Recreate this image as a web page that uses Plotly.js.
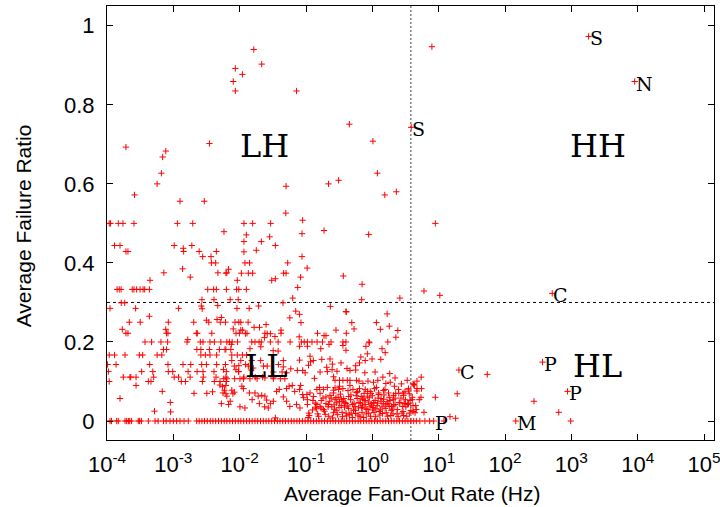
<!DOCTYPE html>
<html>
<head>
<meta charset="utf-8">
<script src="https://cdn.plot.ly/plotly-3.0.1.min.js"></script>
<style>html,body{margin:0;padding:0;background:#fff;}#chart{width:720px;height:507px;}</style>
</head>
<body>
<div id="chart"></div>
<script>
// ---- data: [fan-out rate (Hz), failure ratio] ----
const upperPts = [[1.93e-4,0.693],[2.6e-4,0.572],[5.7e-4,0.600],[6.6e-4,0.627],[6.9e-4,0.668],[7.7e-4,0.683],[1.26e-3,0.556],[2.93e-3,0.556],[3.5e-3,0.702],[8.0e-3,0.859],[8.6e-3,0.892],[8.6e-3,0.835],[1.1e-2,0.877],[1.63e-2,0.94],[2.15e-2,0.903],[7.2e-2,0.835],[5.0e-2,0.594],[4.95e-2,0.526],[0.218,0.600],[0.31,0.609],[0.45,0.751],[1.02,0.708],[1.19,0.627],[1.54,0.572],[2.3,0.580],[8.9e-2,0.508],[1.08e-4,0.5],[1.13e-4,0.5],[1.48e-4,0.5],[1.74e-4,0.5],[2.55e-4,0.5],[1.15e-3,0.5],[1.96e-3,0.5],[1.16e-2,0.5],[1.57e-2,0.5],[2.93e-2,0.5],[5.8e-3,0.479],[0.187,0.482],[8.7e-2,0.474],[1.26e-2,0.471],[0.88,0.472],[2.83e-2,0.466],[8.9,0.5],[7.9,0.947]];

const midPts = [[1.3e-4,0.444],[1.57e-4,0.444],[1.93e-4,0.429],[2.07e-4,0.429],[1.03e-3,0.444],[1.41e-3,0.437],[1.43e-3,0.429],[1.9e-3,0.444],[2.45e-3,0.429],[2.77e-3,0.416],[3.7e-3,0.416],[4.45e-3,0.429],[3.75e-3,0.4],[4.35e-3,0.4],[7.2e-4,0.375],[1.38e-3,0.385],[1.8e-3,0.364],[4.7e-3,0.375],[4.45e-4,0.356],[1.16e-2,0.454],[2.12e-2,0.454],[3.45e-2,0.444],[1.16e-2,0.428],[1.78e-2,0.432],[1.2e-2,0.4],[1.41e-2,0.4],[5.3e-2,0.4],[8.7e-2,0.416],[0.104,0.387],[6.8e-3,0.384],[6.2e-3,0.374],[6.4e-3,0.375],[1.06e-2,0.374],[1.35e-2,0.374],[1.57e-2,0.374],[4.6e-2,0.374],[5.0e-2,0.374],[8.3e-2,0.364],[9.2e-3,0.356],[3.04e-2,0.356],[3.45e-2,0.36],[7.5e-2,0.338],[0.365,0.367],[0.70,0.346],
[1.42e-4,0.333],[1.53e-4,0.333],[1.63e-4,0.333],[2.4e-4,0.333],[2.55e-4,0.333],[2.8e-4,0.333],[3.15e-4,0.333],[3.5e-4,0.333],[3.7e-4,0.333],[4.35e-4,0.333],[3.3e-3,0.333],[4.05e-3,0.333],[4.45e-3,0.333],[6.3e-3,0.333],[9.0e-3,0.333],[9.7e-3,0.333],[1.26e-2,0.333],[6.3e-2,0.311],[2.6,0.311]];

const lowPts = [[2.7e-3,0.307],[4.1e-3,0.307],[7.2e-3,0.307],[9.5e-3,0.307],[1.64e-4,0.299],[1.85e-4,0.299],[4.5e-2,0.299],[2.64e-3,0.291],[2.72e-3,0.284],[4.67e-3,0.292],[1.11e-4,0.285],[2.7e-4,0.285],[1.2e-3,0.285],[9.1e-3,0.285],[1.39e-2,0.285],[1.93e-2,0.291],[7.0e-2,0.278],[0.233,0.29],[0.40,0.277],[0.69,0.307],[1.67,0.271],[4.35e-4,0.265],[3.15e-3,0.255],[4.55e-3,0.257],[5.3e-3,0.262],
[2.17e-4,0.25],[3.17e-4,0.25],[8.4e-4,0.25],[2.03e-3,0.25],[3.42e-3,0.25],[5.1e-3,0.25],[6.1e-3,0.25],[9.7e-3,0.25],[1.34e-2,0.25],[8.5e-3,0.25],[1.04e-2,0.25],[2.5e-2,0.244],[8.0e-2,0.27],[5.7e-2,0.261],[8.4e-2,0.249],
[1.7e-4,0.232],[7.7e-4,0.232],[1.65e-3,0.206],
[1.93e-4,0.222],[2.07e-4,0.222],[7.9e-4,0.222],[8.3e-4,0.222],[2.22e-3,0.222],[2.3e-3,0.222],[3.8e-3,0.222],[8.8e-3,0.222],[9.9e-3,0.222],[1.29e-2,0.222],[2.4e-2,0.222],[4.2e-2,0.222],
[8.0e-3,0.233],[1.04e-2,0.23],[1.11e-2,0.23],[1.22e-2,0.221],[1.65e-2,0.237],[1.99e-2,0.237],[4.2e-2,0.23],[2.6e-2,0.221],[2.9e-2,0.221],[3.4e-2,0.214],[7.9e-2,0.213],[0.149,0.222],[0.187,0.216],[0.2,0.216],[2.36e-2,0.211],
[0.405,0.276],[0.49,0.249],[0.283,0.23],[0.405,0.222],[0.53,0.233],[1.15,0.249],[1.8,0.24],[1.32,0.232],[2.42,0.229],[2.26,0.212]];

const rowPts = [[3.74e-4,0.2],[4.7e-4,0.2],[6.5e-4,0.2],[8.2e-4,0.2],[1.61e-3,0.2],[2.55e-3,0.2],[2.8e-3,0.2],[3.57e-3,0.2],[4.15e-3,0.2],[6.4e-3,0.2],[7.0e-3,0.2],[7.7e-3,0.2],[1.52e-2,0.2],[2.12e-2,0.2],[5.76e-2,0.2],[8.5e-2,0.2],[9.4e-2,0.2],[0.105,0.2],[0.123,0.2],[0.147,0.2],[0.177,0.2],[0.238,0.2],[0.36,0.2],[0.40,0.2],[0.89,0.2],
[5.2e-3,0.2],[7.5e-3,0.194],[9.3e-3,0.2],[1.7e-2,0.2],[1.96e-2,0.2],[2.9e-2,0.2],[3.8e-2,0.2],[2.08e-2,0.188],[6.0e-3,0.181],[1.43e-2,0.183],[3.2e-2,0.178],[3.8e-2,0.177],[8.0e-2,0.189],[0.105,0.189],[0.222,0.194],[0.167,0.183],
[0.9,0.198],[0.8,0.189],[1.71,0.2],[1.4,0.183],[0.36,0.191],[0.4,0.179],[1.56,0.173],[0.84,0.17],[0.67,0.162],[0.99,0.157],[1.34,0.156],
[7.1e-4,0.181],[7.9e-4,0.181],[2.26e-3,0.181],[2.6e-3,0.181],[3.5e-3,0.181],[4.94e-3,0.181],[6.2e-3,0.181],[7.35e-3,0.181],
[1.08e-4,0.167],[1.3e-4,0.167],[1.87e-4,0.167],[3.07e-4,0.167],[3.45e-4,0.167],[5.7e-4,0.167],[6.7e-4,0.167],[2.6e-3,0.167],[3.04e-3,0.167],[3.57e-3,0.167],[4.5e-3,0.167],[7.6e-3,0.167],[9.2e-3,0.167],[1.1e-2,0.167],[1.27e-2,0.167],
[1.02e-4,0.143],[1.37e-4,0.143],[4.4e-4,0.143],[8.3e-4,0.143],[1.4e-3,0.143],[1.83e-3,0.143],[2.68e-3,0.143],[3.15e-3,0.143],[4.5e-3,0.143],[6.1e-3,0.143],[1.23e-2,0.143],
[1.05e-4,0.125],[3.33e-4,0.125],[4.9e-4,0.125],[8.4e-4,0.125],[9.8e-4,0.125],[1.67e-3,0.125],[2.28e-3,0.125],[2.8e-3,0.125],[4.1e-3,0.125],[6.3e-3,0.125],[9.7e-3,0.125],
[1.76e-4,0.111],[2.22e-4,0.111],[2.28e-4,0.111],[2.74e-4,0.111],[5.05e-4,0.111],[1.03e-3,0.111],[1.2e-3,0.111],[1.79e-3,0.111],[2.83e-3,0.111],[4.4e-3,0.111],[6.2e-3,0.111],[1.16e-2,0.111],[1.72e-2,0.111],[2.22e-2,0.111],[3.22e-2,0.111],
[1.08e-4,0.1],[4.2e-4,0.1],[4.6e-4,0.1],[1.32e-3,0.1],[1.52e-3,0.1],[2.74e-3,0.1],[4.15e-3,0.1],[5.05e-3,0.1],[6.3e-3,0.1],
[2.74e-4,0.09],[6.8e-4,0.075],[3.2e-3,0.07],[2.05e-3,0.07],[7.9e-3,0.069],[3.9e-3,0.074],[5.6e-3,0.071],[5.9e-3,0.078],[6.2e-3,0.069],[1.57e-4,0.057],[9.0e-4,0.047],[5.3e-3,0.044],[6.8e-3,0.042],[5.2e-4,0.025],[9.1e-4,0.023]];

const corePts = [[7.6e-3,0.153],[1.04e-2,0.153],[1.52e-2,0.153],[2.07e-2,0.153],[4.55e-2,0.153],[8.0e-2,0.154],[0.115,0.164],[0.117,0.15],[0.23,0.157],[0.25,0.144],[0.205,0.136],[5.7e-3,0.13],[8.3e-3,0.139],[9.7e-3,0.14],[8.8e-3,0.13],[9.6e-3,0.125],[1.35e-2,0.139],[1.5e-2,0.129],[1.6e-2,0.134],[2.28e-2,0.139],[2.6e-2,0.139],[3.83e-2,0.143],[4.55e-2,0.137],[3.22e-2,0.124],[4.36e-2,0.124],[5.1e-2,0.122],[5.9e-2,0.132],[7.4e-2,0.128],[8.9e-2,0.128],[9.7e-2,0.122],[0.109,0.141],[0.129,0.153],[0.134,0.108],[0.173,0.156],[0.163,0.124],[0.21,0.125],[0.247,0.13],[0.26,0.112],
[5.76e-3,0.107],[6.4e-3,0.107],[8.4e-3,0.107],[1.01e-2,0.107],[1.14e-2,0.107],[1.43e-2,0.107],[1.83e-2,0.107],[2.4e-2,0.109],[3.22e-2,0.107],[4.1e-2,0.107],[4.8e-2,0.107],
[5.05e-3,0.091],[5.5e-3,0.087],[6.2e-3,0.09],[7.6e-3,0.078],[8.3e-3,0.073],[1.08e-2,0.088],[1.14e-2,0.082],[1.4e-2,0.071],[1.54e-2,0.054],[1.7e-2,0.071],[1.9e-2,0.063],[2.15e-2,0.065],[2.4e-2,0.063],[2.55e-2,0.053],[2.9e-2,0.044],[3.22e-2,0.05],[3.6e-2,0.075],[3.95e-2,0.08],[4.55e-2,0.061],[5.1e-2,0.082],[5.55e-2,0.088],[6.2e-2,0.09],[6.75e-2,0.075],[8.0e-2,0.08],[8.3e-2,0.09],[8.9e-2,0.067],[0.103,0.067],[0.105,0.054],[0.115,0.071],[0.146,0.08],[0.163,0.07],[0.183,0.08],[0.2,0.061],[0.23,0.065],[0.26,0.071],[0.274,0.054],
[6.4e-3,0.063],[7.2e-3,0.05],[1.01e-2,0.036],[1.2e-2,0.033],[1.98e-2,0.044],[2.38e-2,0.036],[2.7e-2,0.033],[5.1e-2,0.05],[5.7e-2,0.037],[7.2e-2,0.042],[8.1e-2,0.033],[0.105,0.042],[0.112,0.014],[0.146,0.042],[0.163,0.037],[0.183,0.029],[0.218,0.042],[0.245,0.036],[0.26,0.021],[3.45e-2,0.008],[0.143,0.031],[0.127,0.052],[9.2e-2,0.059]];

const densePts = [[0.337,0.147],[0.64,0.147],[0.78,0.153],[0.56,0.14],[0.415,0.133],[0.46,0.128],[0.56,0.129],[1.1,0.124],[1.83,0.12],[0.77,0.122],[0.293,0.126],[1.44,0.111],[2.2,0.109],[3.35,0.103],[4.1,0.094],[5.45,0.111],
[0.274,0.103],[0.32,0.103],[0.36,0.103],[0.42,0.103],[0.46,0.103],[0.575,0.103],[0.63,0.101],[0.72,0.095],[0.86,0.101],[1.04,0.098],[1.21,0.103],[1.6,0.095],[1.86,0.098],[2.15,0.088],[2.74,0.094],[3.5,0.082],[4.3,0.091],[4.7,0.082],[5.5,0.082],
[0.274,0.084],[0.31,0.08],[0.36,0.082],[0.43,0.077],[0.51,0.08],[0.6,0.075],[0.78,0.08],[0.93,0.075],[1.08,0.082],[1.24,0.071],[1.47,0.077],[1.75,0.071],[2.08,0.065],[2.47,0.08],[2.95,0.065],[3.6,0.069],
[0.283,0.059],[0.32,0.049],[0.34,0.039],[0.37,0.057],[0.4,0.044],[0.44,0.032],[0.47,0.054],[0.5,0.042],[0.55,0.027],[0.59,0.057],[0.63,0.047],[0.69,0.034],[0.72,0.054],[0.78,0.042],[0.83,0.029],[0.9,0.059],[0.96,0.044],[1.03,0.034],[1.1,0.052],[1.18,0.039],[1.27,0.024],[1.35,0.057],[1.46,0.044],[1.56,0.032],[1.67,0.049],[1.8,0.037],[1.93,0.027],[2.07,0.054],[2.2,0.042],[2.38,0.029],[2.54,0.047],[2.83,0.037],[3.15,0.054],[3.5,0.044],[3.8,0.027],[4.1,0.039],[4.6,0.029],[5.1,0.054],
[0.11,0.02],[0.13,0.062],[0.15,0.018],[0.17,0.052],[0.19,0.025],[0.21,0.085],[0.22,0.012],[0.24,0.058],[0.27,0.03],[0.29,0.046],[0.3,0.016],[0.33,0.068],[0.35,0.022],[0.38,0.035],[0.41,0.013],[0.44,0.062],[0.48,0.02],[0.52,0.028],[0.57,0.064],[0.61,0.015],[0.66,0.045],[0.7,0.022],[0.75,0.07],[0.81,0.018],[0.87,0.048],[0.94,0.012],[1.0,0.064],[1.06,0.022],[1.13,0.031],[1.22,0.058],[1.3,0.015],[1.4,0.036],[1.5,0.066],[1.62,0.021],[1.72,0.044],[1.9,0.014],[2.0,0.03],[2.2,0.058],[2.35,0.018],[2.6,0.046],[2.9,0.024],[3.1,0.074],[3.3,0.012],[3.7,0.052],[0.14,0.035],[0.16,0.085],[0.2,0.044],[0.26,0.078],[0.32,0.088],[0.36,0.05],[0.46,0.09],[0.55,0.037],[0.64,0.082],[0.72,0.058],[0.85,0.075],[0.98,0.04],[1.15,0.085],[1.35,0.05],[1.55,0.08],[1.8,0.06],[2.1,0.04],[2.5,0.07],[3.0,0.045],[4.0,0.06],
[0.108,0.009],[0.125,0.028],[0.138,0.045],[0.155,0.012],[0.168,0.033],[0.18,0.058],[0.195,0.017],[0.215,0.036],[0.228,0.05],[0.25,0.008],[0.265,0.041],[0.285,0.026],[0.305,0.06],[0.315,0.034],[0.345,0.055],[0.355,0.011],[0.39,0.047],[0.4,0.02],[0.425,0.038],[0.45,0.016],[0.475,0.066],[0.5,0.009],[0.53,0.045],[0.56,0.019],[0.58,0.072],[0.62,0.033],[0.65,0.011],[0.68,0.062],[0.71,0.038],[0.74,0.009],[0.77,0.052],[0.8,0.031],[0.84,0.063],[0.88,0.02],[0.92,0.036],[0.95,0.07],[1.01,0.028],[1.05,0.047],[1.12,0.011],[1.2,0.045],[1.25,0.067],[1.32,0.028],[1.42,0.019],[1.48,0.055],[1.6,0.041],[1.7,0.012],[1.85,0.052],[1.95,0.037],[2.05,0.018],[2.25,0.07],[2.45,0.011],[2.7,0.058],[2.8,0.02],[3.2,0.036],[3.6,0.02]];

const edgePts = [[4.7,0.101],[4.2,0.092],[3.5,0.079],[4.7,0.076],[2.9,0.071],[4.0,0.054],[5.4,0.06],[3.1,0.044],[3.4,0.042],[4.5,0.039],[6.0,0.022],[4.1,0.024],[2.95,0.014],[4.4,0.021]];

const highRatePts = [[54,0.118],[19,0.069],[8.9,0.06],[273,0.05],[646,0.022],[14.8,0.011],[18,0.007],[6.0,0.329],[10.4,0.318]];

// services with zero failure ratio
const zeroHz = [1.11e-4,1.17e-4,1.4e-4,1.48e-4,1.87e-4,1.98e-4,2.1e-4,2.2e-4,2.35e-4,2.96e-4,3.1e-4,3.3e-4,4.2e-4,5.3e-4,5.9e-4,7.1e-4,7.8e-4,8.9e-4,1.0e-3,1.12e-3,1.26e-3,1.45e-3,1.68e-3,
2.25e-3,2.45e-3,2.7e-3,2.95e-3,3.25e-3,3.6e-3,3.95e-3,4.35e-3,4.8e-3,5.3e-3,5.85e-3,6.4e-3,7.1e-3,7.8e-3,8.6e-3,9.5e-3,
1.04e-2,1.15e-2,1.27e-2,1.4e-2,1.54e-2,1.7e-2,1.87e-2,2.06e-2,2.27e-2,2.5e-2,2.75e-2,3.04e-2,3.35e-2,3.7e-2,4.05e-2,4.45e-2,4.9e-2,5.4e-2,6.0e-2,6.6e-2,7.3e-2,8.0e-2,8.8e-2,9.7e-2,
0.107,0.118,0.13,0.143,0.157,0.173,0.19,0.21,0.232,0.255,0.28,0.31,0.34,0.375,0.41,0.455,0.5,0.55,0.61,0.67,0.74,0.81,0.89,0.98,
1.08,1.19,1.31,1.44,1.59,1.75,1.93,2.12,2.34,2.57,2.83,3.12,3.44,3.8,4.2,4.6,5.2,6.2,7.3,12,977];
const zeroRatio = zeroHz.map(() => 0);

// labelled services
const labelHz    = [3.85, 1820, 9000, 515, 20.2, 368, 877, 8.4, 145];
const labelRatio = [0.743, 0.973, 0.859, 0.323, 0.129, 0.149, 0.075, 0, 0];
const labelText  = ['S', 'S', 'N', 'C', 'C', 'P', 'P', 'P', 'M'];

// quadrant thresholds
const rateThresholdHz = 3.8;
const ratioThreshold = 0.3;

// quadrant names
const quadNames = ['LH', 'HH', 'LL', 'HL'];
const quadHz    = [2.4e-2, 2550, 2.5e-2, 2500];
const quadRatio = [0.695, 0.695, 0.138, 0.138];

// axis ticks and titles
const xTickVals = [1e-4, 1e-3, 1e-2, 1e-1, 1e0, 1e1, 1e2, 1e3, 1e4, 1e5];
const xTickText = ['10<sup>-4</sup>','10<sup>-3</sup>','10<sup>-2</sup>','10<sup>-1</sup>','10<sup>0</sup>','10<sup>1</sup>','10<sup>2</sup>','10<sup>3</sup>','10<sup>4</sup>','10<sup>5</sup>'];
const yTickVals = [0, 0.2, 0.4, 0.6, 0.8, 1];
const yTickText = ['0', '0.2', '0.4', '0.6', '0.8', '1'];
const xTitle = 'Average Fan-Out Rate (Hz)';
const yTitle = 'Average Failure Ratio';

// ---- build ----
const allPts = [].concat(upperPts, midPts, lowPts, rowPts, corePts, densePts, edgePts, highRatePts);
const ptX = allPts.map(p => p[0]).concat(zeroHz);
const ptY = allPts.map(p => p[1]).concat(zeroRatio);

const red = 'rgb(255,0,0)';
const mk = {symbol: 'cross-thin-open', size: 4.5, color: red, line: {color: red, width: 1}};

const traces = [
  {type: 'scatter', mode: 'markers', x: ptX, y: ptY, marker: mk, hoverinfo: 'skip', showlegend: false},
  {type: 'scatter', mode: 'markers', x: labelHz, y: labelRatio, marker: mk, hoverinfo: 'skip', showlegend: false}
];

const sans = 'Liberation Sans';
const titleFont = {family: sans, size: 21, color: '#000'};
const layout = {
  width: 720, height: 507,
  margin: {l: 107, r: 6, t: 6, b: 67},
  paper_bgcolor: '#fff', plot_bgcolor: '#fff',
  showlegend: false,
  xaxis: {
    type: 'log', range: [-4, 5.15],
    tickmode: 'array', tickvals: xTickVals, ticktext: xTickText,
    tickfont: {family: sans, size: 22, color: '#000'}, ticklabelstandoff: 5, ticklabeloverflow: 'allow',
    ticks: 'inside', ticklen: 6, tickwidth: 1, tickcolor: '#000',
    showline: true, linecolor: '#000', linewidth: 1, mirror: 'ticks',
    showgrid: false, zeroline: false
  },
  yaxis: {
    range: [-0.048, 1.05],
    tickmode: 'array', tickvals: yTickVals, ticktext: yTickText,
    tickfont: {family: sans, size: 22, color: '#000'}, ticklabelstandoff: 7,
    ticks: 'inside', ticklen: 6, tickwidth: 1, tickcolor: '#000',
    showline: true, linecolor: '#000', linewidth: 1, mirror: 'ticks',
    showgrid: false, zeroline: false
  },
  shapes: [
    {type: 'line', layer: 'below', xref: 'paper', x0: 0, x1: 1, yref: 'y', y0: ratioThreshold, y1: ratioThreshold,
     line: {color: '#000', width: 1, dash: '3px,3px'}},
    {type: 'line', layer: 'below', xref: 'x', x0: rateThresholdHz, x1: rateThresholdHz, yref: 'paper', y0: 0, y1: 1,
     line: {color: '#777', width: 1.4, dash: '2px,2px'}}
  ],
  annotations: quadNames.map((t, i) => ({
    text: t, x: Math.log10(quadHz[i]), y: quadRatio[i], xref: 'x', yref: 'y',
    showarrow: false, font: {family: 'DejaVu Serif', size: 32, color: '#000'}
  })).concat(labelText.map((t, i) => ({
    text: t, x: Math.log10(labelHz[i]), y: labelRatio[i], xref: 'x', yref: 'y',
    xanchor: 'left', yanchor: 'middle', xshift: -1, yshift: -2, showarrow: false,
    font: {family: 'DejaVu Serif', size: 19, color: '#000'}
  }))).concat([
    {text: xTitle, xref: 'paper', yref: 'paper', x: 0.502, y: -0.124, xanchor: 'center', yanchor: 'middle',
     showarrow: false, font: titleFont},
    {text: yTitle, xref: 'paper', yref: 'paper', x: -0.138, y: 0.493, xanchor: 'center', yanchor: 'middle',
     textangle: -90, showarrow: false, font: titleFont}
  ])
};

Plotly.newPlot('chart', traces, layout, {displayModeBar: false, staticPlot: true});
</script>
</body>
</html>
